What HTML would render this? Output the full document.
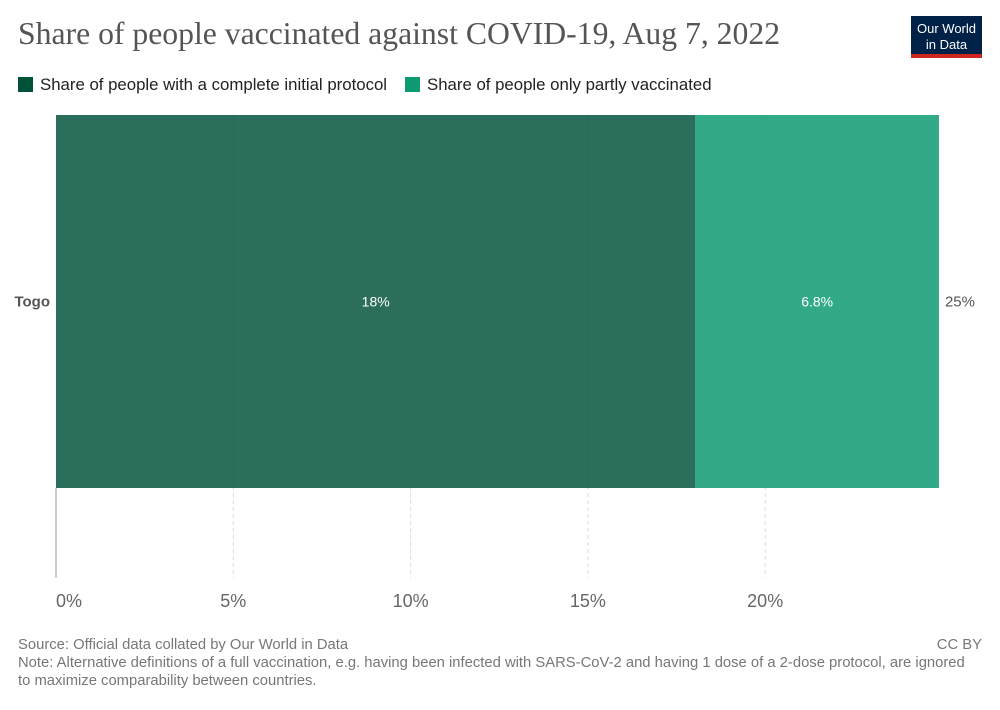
<!DOCTYPE html>
<html><head><meta charset="utf-8"><style>
body{margin:0;width:1000px;height:705px;background:#fff;font-family:"Liberation Sans",sans-serif;overflow:hidden}
</style></head><body>
<svg id="c" width="1000" height="705" xmlns="http://www.w3.org/2000/svg">
<text x="18" y="44" font-family="Liberation Serif,serif" font-size="31.7" fill="#555">Share of people vaccinated against COVID-19, Aug 7, 2022</text>
<g>
<rect x="911" y="16" width="71" height="38" fill="#002147"/>
<rect x="911" y="54" width="71" height="4" fill="#ce261e"/>
<text x="946.5" y="33" font-size="13" fill="#fff" text-anchor="middle">Our World</text>
<text x="946.5" y="49" font-size="13" fill="#fff" text-anchor="middle">in Data</text>
</g>
<g>
<rect x="18" y="77" width="15" height="15" fill="#00513a"/>
<text x="40" y="90" font-size="16.8" fill="#222">Share of people with a complete initial protocol</text></g>
<g>
<rect x="405" y="77" width="15" height="15" fill="#0e9a72"/>
<text x="427" y="90" font-size="16.8" fill="#222">Share of people only partly vaccinated</text></g>
<g id="plot"></g>
<text x="18" y="649" font-size="14.8" fill="#777">Source: Official data collated by Our World in Data</text>
<text x="982" y="649" font-size="14.8" fill="#777" text-anchor="end">CC BY</text>
<text x="18" y="667" font-size="14.8" fill="#777">Note: Alternative definitions of a full vaccination, e.g. having been infected with SARS-CoV-2 and having 1 dose of a 2-dose protocol, are ignored</text>
<text x="18" y="685" font-size="14.8" fill="#777">to maximize comparability between countries.</text>
</svg>
<script>
const categories=["Togo"];
const completeValues=[18.03];
const partlyValues=[6.87];
const completeLabels=["18%"];
const partlyLabels=["6.8%"];
const totalLabels=["25%"];
const ticks=[0,5,10,15,20];
const NS="http://www.w3.org/2000/svg";
const g=document.getElementById("plot");
const x0=56,pxPer=35.46,plotTop=115,plotBottom=488,axisBottom=578;
const x=v=>x0+v*pxPer;
function el(t,a){const e=document.createElementNS(NS,t);for(const k in a)e.setAttribute(k,a[k]);g.appendChild(e);return e;}
ticks.forEach(t=>{
 if(t>0){const l=el("line",{x1:x(t),x2:x(t),y1:plotTop,y2:axisBottom,stroke:"#ddd","stroke-dasharray":"4,3"});
 
 }
 const tx=el("text",{x:t===0?x(t)+13:x(t),y:607,"font-size":18,fill:"#666","text-anchor":"middle"});tx.textContent=t+"%";
 
 
});
const band=(plotBottom-plotTop)/categories.length;
categories.forEach((c,i)=>{
 const y=plotTop+i*band;
 const r1=el("rect",{x:x(0),y:y,width:x(completeValues[i])-x(0),height:band,fill:"#00513a","fill-opacity":0.83});
 
 
 const r2=el("rect",{x:x(completeValues[i]),y:y,width:x(completeValues[i]+partlyValues[i])-x(completeValues[i]),height:band,fill:"#0e9a72","fill-opacity":0.85});
 
 
 const cy=y+band/2+5;
 let t=el("text",{x:(x(0)+x(completeValues[i]))/2,y:cy,"font-size":14,fill:"#fff","text-anchor":"middle"});t.textContent=completeLabels[i];
 
 
 t=el("text",{x:(x(completeValues[i])+x(completeValues[i]+partlyValues[i]))/2,y:cy,"font-size":14,fill:"#fff","text-anchor":"middle"});t.textContent=partlyLabels[i];
 
 
 t=el("text",{x:x(completeValues[i]+partlyValues[i])+6,y:cy,"font-size":15,fill:"#555"});t.textContent=totalLabels[i];
 
 
 t=el("text",{x:50,y:cy,"font-size":15,"font-weight":"bold",fill:"#555","text-anchor":"end"});t.textContent=c;
 
 
});
const ax=el("line",{x1:x0,x2:x0,y1:plotBottom,y2:axisBottom,stroke:"#999"});


</script>
</body></html>
